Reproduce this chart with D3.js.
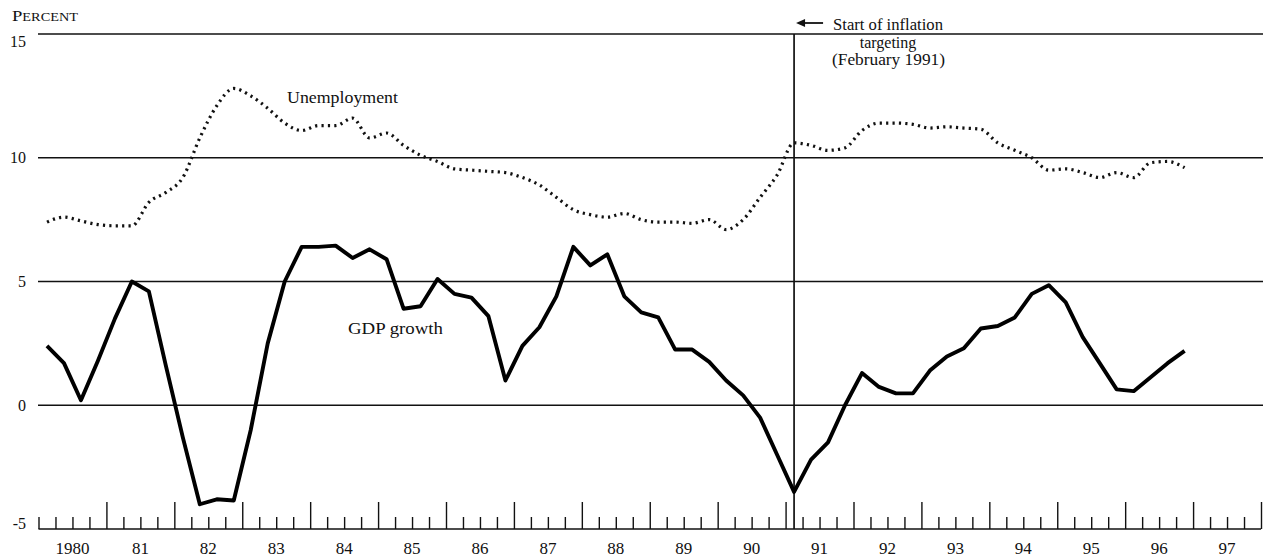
<!DOCTYPE html>
<html>
<head>
<meta charset="utf-8">
<script src="https://cdn.jsdelivr.net/npm/d3@7"></script>
<style>
  html, body { margin: 0; padding: 0; background: #fff; }
  svg { display: block; }
  text { font-family: "Liberation Serif", "DejaVu Serif", serif; fill: #111; }
</style>
</head>
<body>
<svg id="chart" width="1263" height="558"></svg>
<script>
// ---------------- DATA ----------------
const startYear = 1980;               // first quarter is 1980 Q1
const yearLabels = ["1980","81","82","83","84","85","86","87","88","89","90","91","92","93","94","95","96","97"];
const yTicks = [15, 10, 5, 0, -5];

// GDP growth, percent, quarterly 1980Q1 - 1996Q4
const gdpGrowth = [
  2.4, 1.7, 0.2, 1.8,
  3.5, 5.0, 4.6, 1.6,
  -1.3, -4.0, -3.8, -3.85,
  -1.0, 2.5, 5.0, 6.4,
  6.4, 6.45, 5.95, 6.3,
  5.9, 3.9, 4.0, 5.1,
  4.5, 4.35, 3.6, 1.0,
  2.4, 3.15, 4.4, 6.4,
  5.65, 6.1, 4.4, 3.75,
  3.55, 2.25, 2.25, 1.75,
  1.0, 0.4, -0.5, -2.0,
  -3.5, -2.2, -1.5, 0.0,
  1.3, 0.74, 0.48, 0.48,
  1.4, 1.97, 2.3, 3.1,
  3.2, 3.55, 4.5, 4.85,
  4.16, 2.75, 1.7, 0.64,
  0.57, 1.13, 1.7, 2.2
];

// Unemployment rate, percent, quarterly 1980Q1 - 1996Q4
const unemployment = [
  7.4, 7.6, 7.45, 7.3,
  7.25, 7.25, 8.2, 8.6,
  9.2, 10.8, 12.1, 12.8,
  12.5, 12.0, 11.4, 11.1,
  11.3, 11.3, 11.6, 10.8,
  11.0, 10.5, 10.1, 9.85,
  9.55, 9.5, 9.45, 9.4,
  9.2, 8.9, 8.4, 7.9,
  7.7, 7.6, 7.75, 7.5,
  7.4, 7.4, 7.35, 7.5,
  7.1, 7.5, 8.4, 9.3,
  10.6, 10.5, 10.3, 10.4,
  11.1, 11.4, 11.4, 11.35,
  11.2, 11.25, 11.2, 11.15,
  10.6, 10.3, 10.0, 9.5,
  9.55, 9.4, 9.2, 9.4,
  9.2, 9.8, 9.85, 9.6
];

const targetingStart = 1991 + 1.5 / 12;   // February 1991
const annotationLines = ["Start of inflation", "targeting", "(February 1991)"];

// ---------------- CHART ----------------
const svg = d3.select("#chart");
const W = 1263, H = 558;

const x = d3.scaleLinear().domain([1980, 1998]).range([38.5, 1261]);
const y = d3.scaleLinear().domain([-5, 15]).range([529, 34]);

const qTime = i => startYear + (i + 0.5) / 4;

// Horizontal gridlines (15, 10, 5, 0)
svg.append("g").selectAll("line")
  .data(yTicks.filter(v => v !== -5))
  .join("line")
  .attr("x1", 38).attr("x2", W)
  .attr("y1", d => y(d)).attr("y2", d => y(d))
  .attr("stroke", "#111").attr("stroke-width", 1.3);

// Y tick labels
const yLabelDy = {15: 7, 10: 0, 5: 0, 0: 0, "-5": -6};
svg.append("g").selectAll("text")
  .data(yTicks)
  .join("text")
  .attr("x", 26)
  .attr("y", d => y(d) + yLabelDy[d])
  .attr("dy", "0.35em")
  .attr("text-anchor", "end")
  .attr("font-size", 16)
  .text(d => d);

// X axis: baseline + quarterly ticks via d3 axis
const quarterTicks = d3.range(0, 18 * 4 + 1).map(k => 1980 + k / 4);
const axisMinor = d3.axisTop(x)
  .tickValues(quarterTicks.filter(t => !(Number.isInteger(t) && t > 1980)))
  .tickSize(12).tickFormat("").tickSizeOuter(0);
const axisMajor = d3.axisTop(x)
  .tickValues(quarterTicks.filter(t => Number.isInteger(t) && t > 1980))
  .tickSize(27).tickFormat("").tickSizeOuter(0);

const gMinor = svg.append("g").attr("transform", `translate(0,${y(-5)})`).call(axisMinor);
const gMajor = svg.append("g").attr("transform", `translate(0,${y(-5)})`).call(axisMajor);
[gMinor, gMajor].forEach(g => {
  g.select(".domain").attr("stroke", "#111").attr("stroke-width", 1.5)
    .attr("d", `M${x(1980)},0H${x(1998)}`);
  g.selectAll(".tick line").attr("stroke", "#111").attr("stroke-width", 1.4);
});
gMajor.select(".domain").remove();

// Year labels centered in each year
svg.append("g").selectAll("text")
  .data(yearLabels)
  .join("text")
  .attr("x", (d, i) => x(1980 + i + 0.5))
  .attr("y", 554)
  .attr("text-anchor", "middle")
  .attr("font-size", 17)
  .text(d => d);

// Vertical line: start of inflation targeting
svg.append("line")
  .attr("x1", x(targetingStart)).attr("x2", x(targetingStart))
  .attr("y1", y(15)).attr("y2", y(-5))
  .attr("stroke", "#111").attr("stroke-width", 1.7);

// Lines
svg.append("path")
  .datum(unemployment)
  .attr("d", d3.line().x((d, i) => x(qTime(i))).y(d => y(d)).curve(d3.curveMonotoneX))
  .attr("fill", "none")
  .attr("stroke", "#111")
  .attr("stroke-width", 3.2)
  .attr("stroke-dasharray", "2.2,4.2");

svg.append("path")
  .datum(gdpGrowth)
  .attr("d", d3.line().x((d, i) => x(qTime(i))).y(d => y(d)).curve(d3.curveLinear))
  .attr("fill", "none")
  .attr("stroke", "#000")
  .attr("stroke-width", 3.9)
  .attr("stroke-linejoin", "round");

// Series labels
svg.append("text")
  .attr("x", 287).attr("y", 103)
  .attr("font-size", 17)
  .attr("textLength", 111).attr("lengthAdjust", "spacingAndGlyphs")
  .text("Unemployment");

svg.append("text")
  .attr("x", 348).attr("y", 334)
  .attr("font-size", 17.5)
  .attr("textLength", 95).attr("lengthAdjust", "spacingAndGlyphs")
  .text("GDP growth");

// Y axis title (small caps)
const title = svg.append("text").attr("x", 12).attr("y", 21)
  .attr("textLength", 66).attr("lengthAdjust", "spacingAndGlyphs");
title.append("tspan").attr("font-size", 15).text("P");
title.append("tspan").attr("font-size", 11.5).text("ERCENT");

// Annotation with arrow
const ax = x(targetingStart);
svg.append("line")
  .attr("x1", ax + 6).attr("x2", ax + 29)
  .attr("y1", 23).attr("y2", 23)
  .attr("stroke", "#111").attr("stroke-width", 1.8);
svg.append("path")
  .attr("d", `M${ax + 2},23 L${ax + 11},19 L${ax + 11},27 Z`)
  .attr("fill", "#111");

svg.append("text").attr("x", 833).attr("y", 30).attr("font-size", 16)
  .attr("textLength", 110).attr("lengthAdjust", "spacingAndGlyphs").text(annotationLines[0]);
svg.append("text").attr("x", 888).attr("y", 48).attr("font-size", 16)
  .attr("text-anchor", "middle").text(annotationLines[1]);
svg.append("text").attr("x", 832).attr("y", 65).attr("font-size", 16)
  .attr("textLength", 113).attr("lengthAdjust", "spacingAndGlyphs").text(annotationLines[2]);
</script>
</body>
</html>
